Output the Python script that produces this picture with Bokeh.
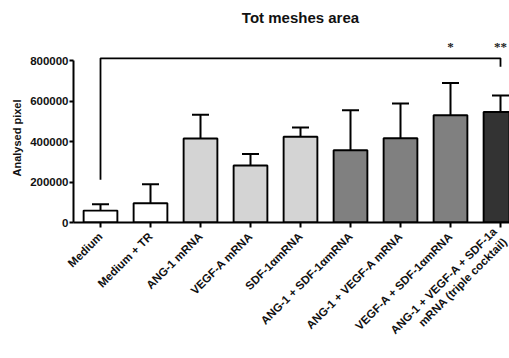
import math
from bokeh.plotting import figure
from bokeh.models import (ColumnDataSource, Whisker, TeeHead, FixedTicker,
                          BasicTickFormatter, Label, LabelSet, Range1d, Title)
from bokeh.embed import file_html
from bokeh.resources import INLINE

# ---- data ----
categories = ["Medium", "Medium + TR", "ANG-1 mRNA", "VEGF-A mRNA", "SDF-1\u03b1mRNA",
              "ANG-1 + SDF-1\u03b1mRNA", "ANG-1 + VEGF-A mRNA", "VEGF-A + SDF-1\u03b1mRNA",
              "ANG-1 + VEGF-A + SDF-1a\nmRNA (triple cocktail)"]
means = [59000, 95000, 416000, 282000, 425000, 358000, 417000, 531000, 547000]
errors = [31000, 94000, 118000, 57000, 46000, 198000, 172000, 160000, 82000]
bar_colors = ["#ffffff", "#ffffff", "#d4d4d4", "#d4d4d4", "#d4d4d4",
              "#808080", "#808080", "#808080", "#333333"]
y_ticks = [0, 200000, 400000, 600000, 800000]

bracket_from, bracket_to = 0, 8
bracket_top = 813000
bracket_left_end = 212000
bracket_right_end = 772000
signif_groups = [7, 8]
signif_marks = ["*", "**"]
signif_y = 872000

title_text = "Tot meshes area"
y_label = "Analysed pixel"

FONT = "Liberation Sans"
INK = "#111111"

xs = list(range(len(categories)))
upper = [m + e for m, e in zip(means, errors)]
src = ColumnDataSource(dict(x=xs, top=means, upper=upper, color=bar_colors))

p = figure(width=509, height=358, output_backend="svg", toolbar_location=None,
           x_range=Range1d(-0.54, 8.18), y_range=Range1d(0, 1099500),
           min_border_left=73, min_border_right=0, min_border_top=0,
           min_border_bottom=134)
p.outline_line_color = None
p.xgrid.visible = False
p.ygrid.visible = False
p.background_fill_color = "white"
p.border_fill_color = "white"

p.vbar(x="x", top="top", bottom=0, width=0.675, source=src,
       fill_color="color", line_color="black", line_width=1.9)

w = Whisker(source=src, base="x", lower="top", upper="upper", dimension="height",
            line_color="black", line_width=2, lower_head=None,
            upper_head=TeeHead(size=17, line_color="black", line_width=2),
            level="annotation")
p.add_layout(w)

# significance bracket
p.line([bracket_from, bracket_from, bracket_to, bracket_to],
       [bracket_left_end, bracket_top, bracket_top, bracket_right_end],
       line_color="black", line_width=1.8)
sig_src = ColumnDataSource(dict(x=signif_groups, y=[signif_y] * len(signif_groups),
                                t=signif_marks))
p.add_layout(LabelSet(x="x", y="y", text="t", source=sig_src, text_align="center",
                      text_baseline="middle", text_font_size="13px",
                      text_font_style="bold", text_font=FONT, text_color="#222222"))

# chart title
p.add_layout(Label(x=4.0, y=1016000, text=title_text, text_align="center",
                   text_baseline="middle", text_font=FONT, text_font_size="15px",
                   text_font_style="bold", text_color=INK))

# y axis
ya = p.yaxis[0]
ya.bounds = (0, 800000)
ya.ticker = FixedTicker(ticks=y_ticks)
ya.formatter = BasicTickFormatter(use_scientific=False)
ya.minor_tick_line_color = None
ya.major_tick_in = 0
ya.major_tick_out = 4
ya.major_tick_line_width = 2
ya.axis_line_width = 2
ya.major_label_standoff = 1
ya.major_label_text_font = FONT
ya.major_label_text_font_style = "bold"
ya.major_label_text_font_size = "11.5px"
ya.major_label_text_color = INK

# y axis title (side title so it sits at the middle of the 0-800000 span)
p.add_layout(Title(text=y_label, align="left", offset=46, standoff=9,
                   text_font=FONT, text_font_size="11px", text_font_style="bold",
                   text_color=INK), "left")

# x axis
xa = p.xaxis[0]
xa.ticker = FixedTicker(ticks=xs)
xa.major_label_overrides = {i: c for i, c in zip(xs, categories)}
xa.major_label_orientation = math.pi / 4
xa.major_label_standoff = 7
xa.major_label_text_font = FONT
xa.major_label_text_font_style = "bold"
xa.major_label_text_font_size = "11.5px"
xa.major_label_text_color = INK
xa.minor_tick_line_color = None
xa.major_tick_in = 0
xa.major_tick_out = 5
xa.major_tick_line_width = 2
xa.axis_line_width = 2

open("out.html", "w").write(file_html(p, INLINE))
